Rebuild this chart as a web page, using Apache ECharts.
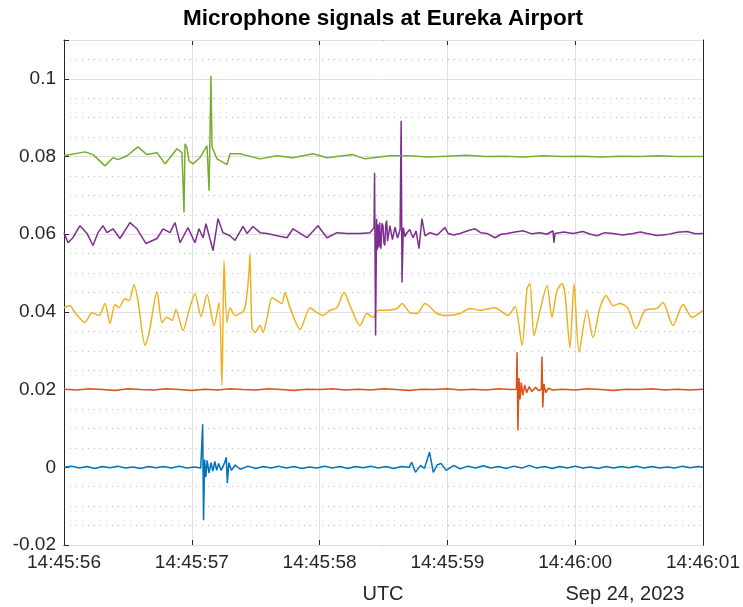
<!DOCTYPE html>
<html>
<head>
<meta charset="utf-8">
<script src="https://cdn.jsdelivr.net/npm/echarts@6/dist/echarts.min.js"></script>
<style>
html, body { margin: 0; padding: 0; background: #fff; }
#main { width: 743px; height: 607px; }
</style>
</head>
<body>
<div id="main"></div>
<script>
// x: seconds after 14:45:56 UTC, y: signal (offset per microphone)
var xTickLabels = ['14:45:56', '14:45:57', '14:45:58', '14:45:59', '14:46:00', '14:46:01'];
var yTickLabels = ['-0.02', '0', '0.02', '0.04', '0.06', '0.08', '0.1'];

var blueSignal = [
	[0, 0.0000], [0.06, 0.0003], [0.12, -0.0002], [0.18, 0.0002], [0.24, -0.0003], [0.30, 0.0002],
	[0.36, -0.0001], [0.42, 0.0003], [0.48, -0.0002], [0.54, 0.0001], [0.60, -0.0003], [0.66, 0.0002],
	[0.72, -0.0001], [0.78, 0.0002], [0.84, -0.0002], [0.90, 0.0003], [0.96, -0.0002], [1.02, 0.0001],
	[1.07, -0.0002], [1.085, 0.0111], [1.092, -0.0136], [1.100, 0.0020], [1.110, -0.0025], [1.120, 0.0018],
	[1.135, -0.0015], [1.150, 0.0012], [1.165, -0.0010], [1.180, 0.0015], [1.195, -0.0008], [1.210, 0.0010],
	[1.230, -0.0008], [1.255, 0.0010], [1.270, 0.0026], [1.278, -0.0041], [1.290, 0.0012], [1.310, -0.0008],
	[1.340, 0.0006], [1.380, -0.0005], [1.44, 0.0003], [1.50, -0.0003], [1.56, 0.0002], [1.62, -0.0002],
	[1.68, 0.0003], [1.74, -0.0002], [1.80, 0.0002], [1.86, -0.0003], [1.92, 0.0001], [1.98, -0.0002],
	[2.04, 0.0003], [2.10, -0.0002], [2.16, 0.0002], [2.22, -0.0003], [2.28, 0.0002], [2.34, -0.0001],
	[2.40, 0.0003], [2.46, -0.0002], [2.52, 0.0002], [2.58, -0.0003], [2.64, 0.0002], [2.70, 0.0000],
	[2.72, 0.0013], [2.75, -0.0013], [2.79, 0.0005], [2.82, -0.0003], [2.86, 0.0039], [2.89, -0.0013],
	[2.92, 0.0006], [2.95, 0.0010], [2.99, -0.0008], [3.05, 0.0005], [3.10, -0.0004], [3.16, 0.0003],
	[3.22, -0.0002], [3.28, 0.0004], [3.34, -0.0002], [3.40, 0.0002], [3.46, -0.0003], [3.52, 0.0003],
	[3.58, -0.0002], [3.64, 0.0005], [3.70, -0.0002], [3.76, 0.0002], [3.82, -0.0003], [3.88, 0.0002],
	[3.94, -0.0002], [4.00, 0.0003], [4.06, -0.0002], [4.12, 0.0001], [4.18, -0.0003], [4.24, 0.0002],
	[4.30, -0.0002], [4.36, 0.0002], [4.42, -0.0001], [4.48, 0.0003], [4.54, -0.0002], [4.60, 0.0002],
	[4.66, -0.0002], [4.72, 0.0001], [4.78, -0.0002], [4.84, 0.0003], [4.90, -0.0001], [4.96, 0.0002],
	[5.00, 0.0000]
];

var orangeSignal = [
	[0, 0.0201], [0.1, 0.0199], [0.2, 0.0202], [0.3, 0.0200], [0.4, 0.0198], [0.5, 0.0202], [0.6, 0.0200],
	[0.7, 0.0199], [0.8, 0.0202], [0.9, 0.0200], [1.0, 0.0198], [1.1, 0.0201], [1.2, 0.0199], [1.3, 0.0202],
	[1.4, 0.0200], [1.5, 0.0199], [1.6, 0.0202], [1.7, 0.0200], [1.8, 0.0198], [1.9, 0.0201], [2.0, 0.0200],
	[2.1, 0.0202], [2.2, 0.0199], [2.3, 0.0201], [2.4, 0.0199], [2.5, 0.0202], [2.6, 0.0200], [2.7, 0.0198],
	[2.8, 0.0201], [2.9, 0.0200], [3.0, 0.0202], [3.1, 0.0199], [3.2, 0.0201], [3.3, 0.0199], [3.4, 0.0202],
	[3.5, 0.0200], [3.54, 0.0201], [3.545, 0.0296], [3.552, 0.0095], [3.560, 0.0230], [3.568, 0.0175],
	[3.578, 0.0218], [3.590, 0.0185], [3.605, 0.0212], [3.620, 0.0192], [3.640, 0.0208], [3.660, 0.0195],
	[3.690, 0.0206], [3.715, 0.0197], [3.735, 0.0201], [3.740, 0.0285], [3.746, 0.0154], [3.755, 0.0215],
	[3.770, 0.0192], [3.79, 0.0204], [3.82, 0.0199], [3.9, 0.0201], [4.0, 0.0199], [4.1, 0.0202],
	[4.2, 0.0200], [4.3, 0.0198], [4.4, 0.0201], [4.5, 0.0200], [4.6, 0.0202], [4.7, 0.0199], [4.8, 0.0201],
	[4.9, 0.0199], [5.0, 0.0201]
];

var yellowSignal = [
	[0, 0.0411], [0.047, 0.0416], [0.086, 0.0398], [0.164, 0.0373], [0.219, 0.0398], [0.274, 0.0391],
	[0.321, 0.0422], [0.360, 0.0370], [0.399, 0.0419], [0.430, 0.0411], [0.477, 0.0434], [0.509, 0.0429],
	[0.548, 0.0470], [0.579, 0.0429], [0.634, 0.0314], [0.665, 0.0344], [0.728, 0.0452], [0.767, 0.0373],
	[0.806, 0.0386], [0.845, 0.0378], [0.876, 0.0406], [0.931, 0.0352], [0.978, 0.0404], [1.025, 0.0447],
	[1.072, 0.0388], [1.119, 0.0445], [1.174, 0.0365], [1.213, 0.0424], [1.236, 0.0211], [1.252, 0.0532],
	[1.275, 0.0373], [1.299, 0.0411], [1.338, 0.0391], [1.408, 0.0404], [1.432, 0.0447], [1.448, 0.0506],
	[1.455, 0.0550], [1.471, 0.0360], [1.495, 0.0347], [1.534, 0.0365], [1.557, 0.0347], [1.588, 0.0383],
	[1.628, 0.0437], [1.667, 0.0429], [1.706, 0.0422], [1.729, 0.0450], [1.768, 0.0411], [1.847, 0.0355],
	[1.925, 0.0411], [1.980, 0.0398], [2.027, 0.0391], [2.081, 0.0404], [2.136, 0.0411], [2.191, 0.0450],
	[2.238, 0.0416], [2.316, 0.0365], [2.371, 0.0396], [2.418, 0.0386], [2.457, 0.0404], [2.496, 0.0404],
	[2.606, 0.0409], [2.645, 0.0422], [2.707, 0.0398], [2.762, 0.0396], [2.825, 0.0422], [2.919, 0.0396],
	[2.997, 0.0391], [3.099, 0.0396], [3.177, 0.0409], [3.255, 0.0404], [3.372, 0.0411], [3.474, 0.0391],
	[3.529, 0.0414], [3.584, 0.0314], [3.623, 0.0460], [3.646, 0.0473], [3.678, 0.0339], [3.725, 0.0404],
	[3.779, 0.0468], [3.818, 0.0386], [3.858, 0.0455], [3.897, 0.0473], [3.920, 0.0447], [3.959, 0.0308],
	[3.991, 0.0473], [4.030, 0.0296], [4.092, 0.0404], [4.139, 0.0334], [4.194, 0.0411], [4.241, 0.0442],
	[4.296, 0.0416], [4.351, 0.0422], [4.413, 0.0409], [4.476, 0.0357], [4.546, 0.0404], [4.640, 0.0409],
	[4.687, 0.0424], [4.765, 0.0365], [4.844, 0.0419], [4.914, 0.0386], [5.0, 0.0404]
];

var purpleSignal = [
	[0, 0.0604], [0.031, 0.0578], [0.070, 0.0591], [0.125, 0.0622], [0.180, 0.0602], [0.227, 0.0571],
	[0.266, 0.0604], [0.305, 0.0622], [0.336, 0.0604], [0.383, 0.0614], [0.438, 0.0589], [0.516, 0.0630],
	[0.571, 0.0614], [0.642, 0.0576], [0.728, 0.0589], [0.775, 0.0614], [0.829, 0.0604], [0.869, 0.0630],
	[0.908, 0.0578], [0.970, 0.0617], [1.025, 0.0578], [1.056, 0.0614], [1.088, 0.0591], [1.111, 0.0627],
	[1.166, 0.0558], [1.205, 0.0640], [1.244, 0.0604], [1.299, 0.0596], [1.338, 0.0584], [1.401, 0.0620],
	[1.432, 0.0602], [1.479, 0.0620], [1.534, 0.0604], [1.588, 0.0602], [1.667, 0.0596], [1.745, 0.0591],
	[1.792, 0.0614], [1.901, 0.0591], [1.987, 0.0622], [2.058, 0.0591], [2.136, 0.0604], [2.214, 0.0602],
	[2.316, 0.0602], [2.394, 0.0604], [2.426, 0.0617], [2.430, 0.0758], [2.438, 0.0339], [2.446, 0.0640],
	[2.452, 0.0560], [2.457, 0.0625], [2.464, 0.0566], [2.470, 0.0630], [2.476, 0.0575], [2.480, 0.0563],
	[2.488, 0.0628], [2.496, 0.0622], [2.503, 0.0578], [2.510, 0.0571], [2.518, 0.0625], [2.525, 0.0635],
	[2.532, 0.0582], [2.540, 0.0584], [2.550, 0.0622], [2.560, 0.0620], [2.570, 0.0586], [2.580, 0.0589],
	[2.590, 0.0618], [2.600, 0.0614], [2.610, 0.0590], [2.620, 0.0591], [2.630, 0.0612], [2.638, 0.0892],
	[2.645, 0.0476], [2.655, 0.0617], [2.668, 0.0594], [2.684, 0.0604], [2.705, 0.0612], [2.731, 0.0591],
	[2.755, 0.0608], [2.778, 0.0563], [2.801, 0.0640], [2.825, 0.0596], [2.864, 0.0604], [2.92, 0.0598],
	[2.981, 0.0617], [3.005, 0.0602], [3.05, 0.0598], [3.099, 0.0602], [3.16, 0.0609], [3.216, 0.0614],
	[3.26, 0.0604], [3.310, 0.0602], [3.372, 0.0591], [3.42, 0.0600], [3.466, 0.0602], [3.53, 0.0606],
	[3.592, 0.0609], [3.66, 0.0601], [3.725, 0.0604], [3.78, 0.0600], [3.826, 0.0609], [3.834, 0.0578],
	[3.842, 0.0602], [3.91, 0.0606], [3.983, 0.0602], [4.061, 0.0607], [4.12, 0.0600], [4.171, 0.0596],
	[4.23, 0.0604], [4.296, 0.0602], [4.37, 0.0598], [4.452, 0.0602], [4.51, 0.0606], [4.562, 0.0602],
	[4.64, 0.0597], [4.718, 0.0599], [4.80, 0.0605], [4.875, 0.0607], [4.94, 0.0601], [5.0, 0.0602]
];

var greenSignal = [
	[0, 0.0802], [0.164, 0.0812], [0.227, 0.0805], [0.321, 0.0776], [0.383, 0.0797], [0.423, 0.0792],
	[0.493, 0.0802], [0.579, 0.0825], [0.649, 0.0805], [0.728, 0.0810], [0.790, 0.0781], [0.884, 0.0820],
	[0.923, 0.0810], [0.939, 0.0656], [0.947, 0.0833], [0.962, 0.0823], [0.978, 0.0789], [1.009, 0.0781],
	[1.064, 0.0797], [1.119, 0.0828], [1.135, 0.0712], [1.150, 0.1008], [1.158, 0.0825], [1.197, 0.0794],
	[1.275, 0.0779], [1.299, 0.0807], [1.377, 0.0807], [1.534, 0.0794], [1.667, 0.0802], [1.792, 0.0797],
	[1.948, 0.0807], [2.058, 0.0797], [2.261, 0.0805], [2.355, 0.0794], [2.551, 0.0802], [2.70, 0.0802],
	[2.85, 0.0799], [3.00, 0.0801], [3.15, 0.0803], [3.30, 0.0800], [3.45, 0.0801], [3.60, 0.0799],
	[3.75, 0.0802], [3.90, 0.0800], [4.05, 0.0801], [4.20, 0.0799], [4.35, 0.0801], [4.50, 0.0800],
	[4.65, 0.0802], [4.80, 0.0800], [5.00, 0.0800]
];

var chart = echarts.init(document.getElementById('main'));
var font = 'Liberation Sans, Arial, Helvetica, sans-serif';
var ink = '#262626';

function lineSeries(data, color, smooth) {
	return {
		type: 'line',
		data: data,
		xAxisIndex: 0,
		yAxisIndex: 0,
		showSymbol: false,
		symbol: 'none',
		smooth: smooth || false,
		lineStyle: { color: color, width: 1.5 },
		itemStyle: { color: color }
	};
}

function boxAxis(pos, min, max, interval) {
	// 边框轴：只画线和向内的刻度
	return {
		type: 'value', min: min, max: max, interval: interval, position: pos,
		axisLine: { show: true, onZero: false, lineStyle: { color: ink } },
		axisTick: { show: true, inside: true, length: 5, lineStyle: { color: ink } },
		axisLabel: { show: false },
		splitLine: { show: false }
	};
}

var option = {
	animation: false,
	backgroundColor: '#fff',
	grid: { left: 64, right: 40, top: 40, bottom: 62 },
	xAxis: [
		{
			type: 'value', min: 0, max: 5, interval: 1, position: 'bottom',
			axisLine: { show: true, onZero: false, lineStyle: { color: ink } },
			axisTick: { show: true, inside: true, length: 5, lineStyle: { color: ink } },
			axisLabel: {
				color: ink, fontSize: 19, fontFamily: font, margin: 8,
				formatter: function (v) { return xTickLabels[Math.round(v)]; }
			},
			splitLine: { show: true, lineStyle: { color: '#dfdfdf', width: 1 } }
		},
		boxAxis('top', 0, 5, 1)
	],
	yAxis: [
		{
			type: 'value', min: -0.02, max: 0.11, interval: 0.02, position: 'left',
			axisLine: { show: true, onZero: false, lineStyle: { color: ink } },
			axisTick: { show: true, inside: true, length: 5, lineStyle: { color: ink } },
			axisLabel: {
				color: ink, fontSize: 19, fontFamily: font, margin: 8,
				formatter: function (v) {
					if (v > 0.105) return '';
					return yTickLabels[Math.round((v + 0.02) / 0.02)];
				}
			},
			splitLine: { show: true, lineStyle: { color: '#dfdfdf', width: 1 } },
			z: 3
		},
		boxAxis('right', -0.02, 0.11, 0.02),
		{
			// 次网格（虚线）
			type: 'value', min: -0.02, max: 0.11, interval: 0.005, position: 'left',
			axisLine: { show: false },
			axisTick: { show: false },
			axisLabel: { show: false },
			splitLine: { show: true, lineStyle: { color: '#b8b8b8', width: 1, type: [1, 5] } },
			z: 1
		}
	],
	graphic: [
		{
			type: 'text', x: 383, y: 19,
			style: {
				text: 'Microphone signals at Eureka Airport',
				font: 'bold 22.5px ' + font, fill: '#000',
				textAlign: 'center', textVerticalAlign: 'middle'
			}
		},
		{
			type: 'text', x: 383, y: 594,
			style: {
				text: 'UTC', font: '20px ' + font, fill: ink,
				textAlign: 'center', textVerticalAlign: 'middle'
			}
		},
		{
			type: 'text', x: 625, y: 594,
			style: {
				text: 'Sep 24, 2023', font: '20px ' + font, fill: ink,
				textAlign: 'center', textVerticalAlign: 'middle'
			}
		}
	],
	series: [
		lineSeries(blueSignal, '#0072BD'),
		lineSeries(orangeSignal, '#D95319'),
		lineSeries(yellowSignal, '#EDB120', 0.25),
		lineSeries(purpleSignal, '#7E2F8E'),
		lineSeries(greenSignal, '#77AC30')
	]
};

chart.setOption(option);
</script>
</body>
</html>
